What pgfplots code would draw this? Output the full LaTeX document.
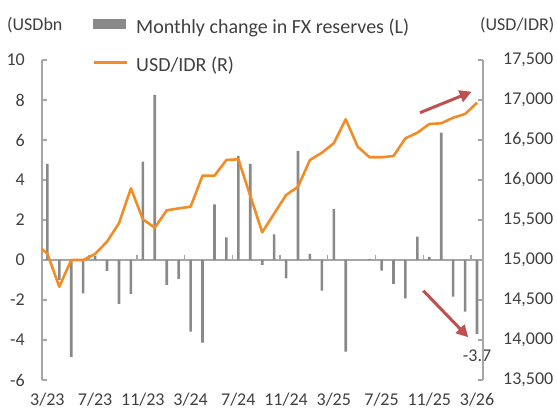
\documentclass[border=0pt]{standalone}
\usepackage{fontspec}
\setmainfont{Carlito}
\usepackage{pgfplots}
\usepackage{pgfplotstable}
\pgfplotsset{compat=1.18}
\usetikzlibrary{arrows.meta}
\definecolor{bargray}{RGB}{137,137,137}
\definecolor{axgray}{RGB}{166,166,166}
\definecolor{txt}{RGB}{64,64,64}
\definecolor{idr}{RGB}{241,140,38}
\definecolor{arrowred}{RGB}{192,80,77}

\pgfplotstableread{
idx chg
0 4.8
1 -1.0
2 -4.85
3 -1.67
4 0.2
5 -0.55
6 -2.2
7 -1.7
8 4.92
9 8.25
10 -1.25
11 -0.95
12 -3.58
13 -4.13
14 2.78
15 1.13
16 5.2
17 4.8
18 -0.25
19 1.28
20 -0.92
21 5.45
22 0.3
23 -1.53
24 2.55
25 -4.58
26 0.0
27 0.05
28 -0.53
29 -1.2
30 -1.92
31 1.17
32 0.15
33 6.37
34 -1.83
35 -2.58
36 -3.7
}\reserves

\pgfplotstableread{
idx usd
-1 15200
0 15080
1 14666
2 15000
3 15000
4 15075
5 15229
6 15460
7 15896
8 15509
9 15404
10 15621
11 15645
12 15666
13 16054
14 16054
15 16250
16 16259
17 15802
18 15346
19 15580
20 15812
21 15916
22 16250
23 16341
24 16459
25 16759
26 16416
27 16284
28 16284
29 16300
30 16521
31 16591
32 16700
33 16709
34 16779
35 16825
36 16966
}\idr

\newcommand{\tfont}{\fontsize{18bp}{21bp}\selectfont}
\newcommand{\lfont}{\fontsize{20bp}{24bp}\selectfont}

\begin{document}
\begin{tikzpicture}
\path[use as bounding box] (0,0) rectangle (557bp,410bp);

\begin{axis}[
  at={(42bp,30bp)}, anchor=south west,
  scale only axis, width=441bp, height=320bp,
  xmin=-0.45, xmax=36.5, ymin=-6, ymax=10,
  clip mode=individual,
  axis y line*=left, axis x line*=middle,
  axis line style={draw=axgray, line width=1.3bp, -},
  every inner x axis line/.append style={-},
  every outer y axis line/.append style={-},
  tick style={draw=axgray, line width=1.3bp},
  major tick length=5bp,
  tick align=inside,
  ytick={-6,-4,...,10},
  xtick={3.5,7.5,...,35.5},
  xticklabels={},
  yticklabel style={anchor=east, inner sep=0pt, xshift=-17bp, font=\tfont, text=txt},
  /pgf/number format/assume math mode=true,
]
\addplot[ybar, bar width=2.6bp, fill=bargray, draw=none] table[x=idx,y=chg]{\reserves};
\node[font=\tfont, text=txt, yshift=-22bp] at (axis cs:36,-3.7) {-3.7};
\end{axis}

\begin{axis}[
  at={(42bp,30bp)}, anchor=south west,
  scale only axis, width=441bp, height=320bp,
  xmin=-0.45, xmax=36.5, ymin=13500, ymax=17500,
  axis y line*=right, axis x line*=bottom,
  x axis line style={draw=none},
  y axis line style={draw=axgray, line width=1.3bp, -},
  every outer y axis line/.append style={-},
  every outer x axis line/.append style={-},
  tick style={draw=axgray, line width=1.3bp},
  major x tick style=transparent,
  major tick length=5bp,
  tick align=inside,
  xtick={0,4,...,36},
  xticklabels={3/23,7/23,11/23,3/24,7/24,11/24,3/25,7/25,11/25,3/26},
  xticklabel style={anchor=base, inner sep=0pt, yshift=-25.7bp, font=\tfont, text=txt},
  ytick={13500,14000,...,17500},
  scaled y ticks=false,
  yticklabel style={anchor=west, inner sep=0pt, xshift=20bp, font=\tfont, text=txt,
    /pgf/number format/.cd, 1000 sep={,}},
  /pgf/number format/assume math mode=true,
  legend cell align=left,
  legend style={at={(axis description cs:0.1134,1.13)}, anchor=north west,
    draw=none, fill=none, inner sep=0pt, row sep=22bp,
    /tikz/every odd column/.append style={column sep=8bp},
    nodes={inner sep=0pt, font=\lfont, text=txt}},
]
\addlegendimage{legend image code/.code={\path[draw=none,fill=none] (0,-7bp) -- (0,7bp); \fill[bargray] (0,-2bp) rectangle (38bp,7bp);}}
\addlegendentry{Monthly change in FX reserves (L)}
\addplot[color=idr, line width=2.6bp, line join=round, no markers,
  legend image code/.code={\path[draw=none,fill=none] (0,-5bp) -- (0,5bp); \draw[idr, line width=2.6bp] (0,2.5bp) -- (40bp,2.5bp);}]
  table[x=idx,y=usd]{\idr};
\addlegendentry{USD/IDR (R)}
\end{axis}

\node[anchor=west, font=\tfont, text=txt, inner sep=0pt] at (7bp,385bp) {(USDbn};
\node[anchor=west, font=\tfont, text=txt, inner sep=0pt] at (480bp,385bp) {(USD/IDR)};

\draw[arrowred, line width=3bp, -{Triangle[length=12bp, width=12bp]}] (420bp,297.3bp) -- (471.7bp,318.3bp);
\draw[arrowred, line width=3bp, -{Triangle[length=12bp, width=12bp]}] (423.3bp,119.3bp) -- (468.3bp,72.7bp);
\end{tikzpicture}
\end{document}
